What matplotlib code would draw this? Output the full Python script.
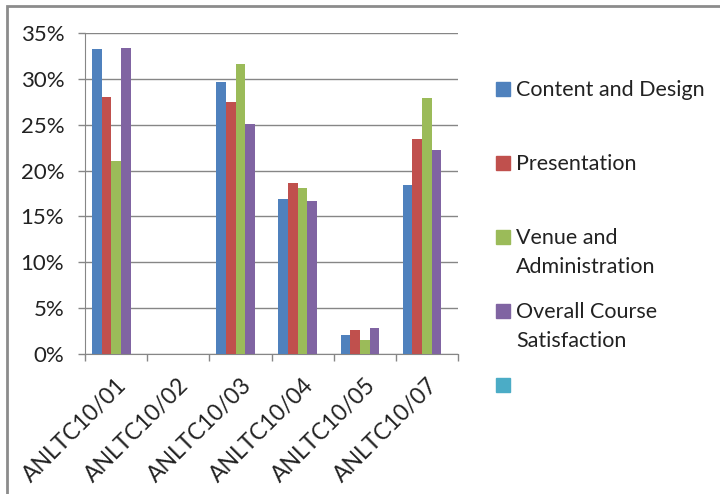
import matplotlib
matplotlib.use("Agg")
import numpy as np
import matplotlib.pyplot as plt
from matplotlib.patches import Rectangle
from matplotlib.ticker import PercentFormatter

plt.rcParams["font.family"] = ["Lato", "DejaVu Sans"]

courses = ["ANLTC10/01", "ANLTC10/02", "ANLTC10/03", "ANLTC10/04", "ANLTC10/05", "ANLTC10/07"]
series_names = ["Content and Design", "Presentation", "Venue and\nAdministration",
                "Overall Course\nSatisfaction", ""]
content = [33.25, np.nan, 29.7, 16.9, 2.1, 18.4]
presentation = [28.0, np.nan, 27.5, 18.65, 2.6, 23.4]
venue = [21.05, np.nan, 31.6, 18.1, 1.55, 27.9]
overall = [33.4, np.nan, 25.05, 16.7, 2.85, 22.25]
blank = [np.nan] * 6
colors = ["#4F81BD", "#C0504D", "#9BBB59", "#8064A2", "#4BACC6"]

fig = plt.figure(figsize=(7.2, 4.94), dpi=100)
ax = fig.add_axes([85 / 720, 1 - 354 / 494, 373 / 720, 321 / 494])

data = [content, presentation, venue, overall, blank]
x = np.arange(len(courses))
w = 0.156
for i, vals in enumerate(data):
    ax.bar(x + (i - 2) * w, vals, w, color=colors[i], zorder=3)

ax.set_xlim(-0.5, len(courses) - 0.5)
ax.set_ylim(0, 35)
ax.set_yticks(np.arange(0, 36, 5))
ax.yaxis.set_major_formatter(PercentFormatter(decimals=0))
ax.grid(axis="y", color="#868686", linewidth=1, zorder=0)

ax.set_xticks(x)
ax.set_xticklabels(courses, rotation=45, ha="right", rotation_mode="anchor", fontsize=16.5,
                   color="#222222")
ax.set_xticks(np.arange(-0.5, len(courses)), minor=True)
ax.tick_params(axis="x", which="major", length=0, pad=15)
ax.tick_params(axis="x", which="minor", length=5, color="#868686", width=1)
ax.tick_params(axis="y", length=5, color="#868686", width=1, pad=10, labelsize=16,
               labelcolor="#222222")

for s in ["top", "right"]:
    ax.spines[s].set_visible(False)
for s in ["left", "bottom"]:
    ax.spines[s].set_color("#868686")

# legend
legend_y = [89, 163, 237, 311, 385]
for name, c, y in zip(series_names, colors, legend_y):
    fig.patches.append(Rectangle((496 / 720, 1 - (y + 7) / 494), 14 / 720, 14 / 494,
                                 transform=fig.transFigure, color=c))
    for k, line in enumerate(name.split("\n")):
        fig.text(516 / 720, 1 - (y + 7 + 29 * k) / 494, line, fontsize=15.5, va="baseline",
                 color="#222222")

# chart frame
fig.patches.append(Rectangle((7 / 720, -0.1), 1.2, 1 - 6 / 494 + 0.1, transform=fig.transFigure,
                             fill=False, edgecolor="#8c8c8c", linewidth=2))

fig.savefig("out.png", dpi=100)
